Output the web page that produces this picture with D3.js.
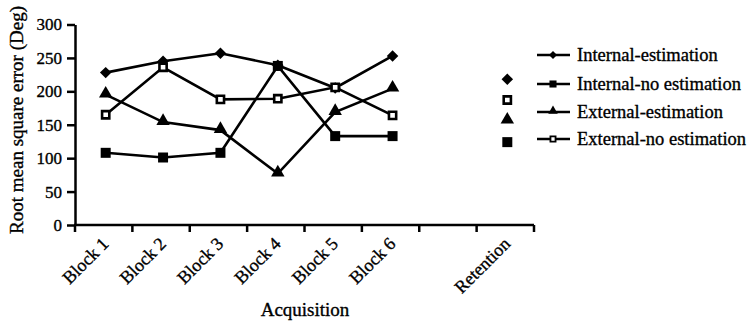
<!DOCTYPE html>
<html><head><meta charset="utf-8">
<script src="https://cdn.jsdelivr.net/npm/d3@7"></script>
<style>body{margin:0;background:#fff}svg{display:block}text{font-family:"Liberation Serif","Times New Roman",serif;fill:#000;stroke:#000;stroke-width:0.35px}</style>
</head><body>
<script>
const categories = ["Block 1","Block 2","Block 3","Block 4","Block 5","Block 6","","Retention"];
const yTicks = [0,50,100,150,200,250,300];
const seriesNames = ["Internal-estimation","Internal-no estimation","External-estimation","External-no estimation"];
const internalEstimation   = [228,245,257,239,205,253,null,218];
const internalNoEstimation = [108,101,108,238,133,133,null,124];
const externalEstimation   = [195,154,142,77,169,204,null,156];
const externalNoEstimation = [165,236,188,189,206,164,null,187];
const yTitle = "Root mean square error (Deg)";
const xTitle = "Acquisition";

const W=752,H=325;
const svg=d3.select("body").append("svg").attr("width",W).attr("height",H);
const x=d3.scaleBand().domain(categories).range([75,534]);
const y=d3.scaleLinear().domain([0,300]).range([225,24.5]);

// y axis
const ya=svg.append("g").attr("transform","translate(75,0)")
  .call(d3.axisLeft(y).tickValues(yTicks).tickSize(8).tickSizeOuter(0).tickPadding(5));
ya.select(".domain").attr("stroke","#000").attr("stroke-width",2.5);
ya.selectAll(".tick line").attr("stroke","#000").attr("stroke-width",2.5);
ya.selectAll(".tick text").style("font-size","17px").attr("font-family","Liberation Serif").attr("fill","#000");

// x axis
const xg=svg.append("g");
xg.append("line").attr("x1",x.range()[0]-1).attr("x2",x.range()[1]).attr("y1",y(0)).attr("y2",y(0))
  .attr("stroke","#000").attr("stroke-width",2.5);
const bounds=categories.map(c=>x(c)).concat([x.range()[1]]);
xg.selectAll("line.tk").data(bounds).join("line").attr("class","tk")
  .attr("x1",d=>d).attr("x2",d=>d).attr("y1",y(0)).attr("y2",y(0)+7)
  .attr("stroke","#000").attr("stroke-width",2.5);
xg.selectAll("text.lbl").data(categories.filter(c=>c)).join("text").attr("class","lbl")
  .attr("text-anchor","end").style("font-size","18px")
  .attr("transform",c=>`translate(${x(c)+x.bandwidth()/2+6},245) rotate(-45)`)
  .text(c=>c);

svg.append("text").attr("x",305).attr("y",316).attr("text-anchor","middle").style("font-size","19px").text(xTitle);
svg.append("text").attr("transform","translate(23,120) rotate(-90)").attr("text-anchor","middle").style("font-size","19px").text(yTitle);

const series=[
  {name:seriesNames[0],values:internalEstimation,sym:"diamond"},
  {name:seriesNames[1],values:internalNoEstimation,sym:"square"},
  {name:seriesNames[2],values:externalEstimation,sym:"triangle"},
  {name:seriesNames[3],values:externalNoEstimation,sym:"open"}
];
function marker(g,sym,scale){
  if(sym==="diamond"){
    g.append("path").attr("d",d3.symbol(d3.symbolSquare,66*scale)()).attr("transform","rotate(45)").attr("fill","#000");
  } else if(sym==="square"){
    g.append("path").attr("d",d3.symbol(d3.symbolSquare,100*scale)()).attr("fill","#000");
  } else if(sym==="triangle"){
    g.append("path").attr("d",d3.symbol(d3.symbolTriangle,78*scale)()).attr("fill","#000").attr("transform","translate(0,-1)");
  } else {
    g.append("path").attr("d",d3.symbol(d3.symbolSquare,52*scale)()).attr("fill","#fff").attr("stroke","#000").attr("stroke-width",2.6*Math.sqrt(scale));
  }
}
const cx=c=>x(c)+x.bandwidth()/2+2;
const line=d3.line().defined(d=>d.v!=null).x(d=>cx(d.c)).y(d=>y(d.v));
series.forEach(s=>{
  const pts=categories.map((c,i)=>({c,v:s.values[i]}));
  svg.append("path").datum(pts).attr("d",line).attr("fill","none").attr("stroke","#000").attr("stroke-width",2.6);
});
series.forEach(s=>{
  const pts=categories.map((c,i)=>({c,v:s.values[i]})).filter(d=>d.v!=null);
  pts.forEach(d=>{
    const g=svg.append("g").attr("transform",`translate(${cx(d.c)},${y(d.v)})`);
    marker(g,s.sym,1);
  });
});

// legend
const legendY=[55,84,112,139];
series.forEach((s,i)=>{
  const g=svg.append("g").attr("transform",`translate(537,${legendY[i]})`);
  g.append("line").attr("x1",0).attr("x2",33).attr("stroke","#000").attr("stroke-width",2.5);
  const mg=g.append("g").attr("transform","translate(16,0)");
  marker(mg,s.sym,0.5);
  g.append("text").attr("x",40).attr("y",0).attr("dy","0.33em").style("font-size","18.5px").text(s.name);
});
</script>
</body></html>
